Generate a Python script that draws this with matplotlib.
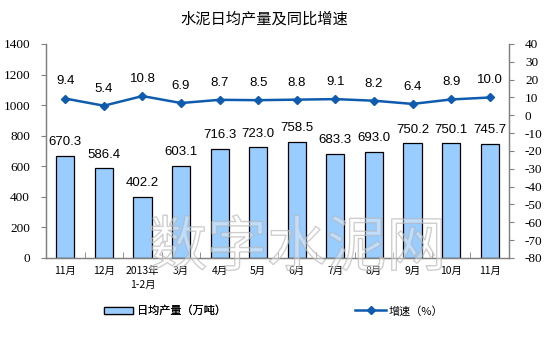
import matplotlib
matplotlib.use("Agg")
import matplotlib.pyplot as plt
import matplotlib.patheffects as pe
import numpy as np
from matplotlib.patches import Patch
from matplotlib.lines import Line2D

plt.rcParams["axes.unicode_minus"] = False

# Data
categories = ["11月", "12月", "2013年\n1-2月", "3月", "4月", "5月", "6月",
              "7月", "8月", "9月", "10月", "11月"]
daily_output = [670.3, 586.4, 402.2, 603.1, 716.3, 723.0, 758.5,
                683.3, 693.0, 750.2, 750.1, 745.7]
growth_rate = [9.4, 5.4, 10.8, 6.9, 8.7, 8.5, 8.8, 9.1, 8.2, 6.4, 8.9, 10.0]
left_ticks = [0, 200, 400, 600, 800, 1000, 1200, 1400]
right_ticks = [-80, -70, -60, -50, -40, -30, -20, -10, 0, 10, 20, 30, 40]

CJK = ["Noto Sans CJK SC", "DejaVu Sans"]
SERIF = "Liberation Serif"
SANS = ["Liberation Sans", "DejaVu Sans"]

BAR_FACE = "#99CCFF"
LINE_COLOR = "#0F5BAE"
AXIS_COLOR = "#808080"

fig = plt.figure(figsize=(5.49, 3.40), dpi=100)
ax = fig.add_axes([46 / 549, 1 - 258 / 340, (509 - 46) / 549, (258 - 44) / 340])
ax2 = ax.twinx()

x = np.arange(len(categories))

# Bars: daily output
ax.bar(x, daily_output, width=0.47, color=BAR_FACE, edgecolor="black",
       linewidth=0.9, zorder=2)
for xi, v in zip(x, daily_output):
    ax.annotate(f"{v:.1f}", (xi, v), xytext=(0, 5.5), textcoords="offset points",
                ha="center", va="bottom", fontsize=9.5, family=SANS, color="black")

ax.set_xlim(-0.5, len(categories) - 0.5)
ax.set_ylim(0, 1400)
ax.set_yticks(left_ticks)
ax.set_yticklabels([str(t) for t in left_ticks], fontfamily=SERIF, fontsize=9.5)
ax.set_xticks(x)
ax.set_xticklabels(categories, family=CJK, fontsize=7.5, linespacing=1.5)
ax.set_xticks(np.arange(-0.5, len(categories), 1.0), minor=True)
ax.tick_params(axis="x", which="major", length=0, pad=6)
ax.tick_params(axis="x", which="minor", length=4, direction="in", color=AXIS_COLOR)
ax.tick_params(axis="y", length=3.5, direction="out", color=AXIS_COLOR, pad=8)

# Line: year-on-year growth
ax2.plot(x, growth_rate, color=LINE_COLOR, linewidth=1.8, marker="D",
         markersize=4.5, zorder=3)
for xi, v in zip(x, growth_rate):
    ax2.annotate(f"{v:.1f}", (xi, v), xytext=(0, 8), textcoords="offset points",
                 ha="center", va="bottom", fontsize=9.5, family=SANS, color="black")
ax2.set_ylim(-80, 40)
ax2.set_yticks(right_ticks)
ax2.set_yticklabels([str(t) for t in right_ticks], fontfamily=SERIF, fontsize=9.5)
ax2.tick_params(axis="y", length=3.5, direction="out", color=AXIS_COLOR, pad=8)

for a in (ax, ax2):
    a.spines["top"].set_visible(False)
    for s in ("left", "right", "bottom"):
        a.spines[s].set_color(AXIS_COLOR)
        a.spines[s].set_linewidth(0.9)

# Title
fig.text(264 / 549, 1 - 19 / 340, "水泥日均产量及同比增速",
         ha="center", va="center", fontsize=11, family=CJK)

# Watermark
fig.text(297 / 549, 1 - 249 / 340, "数字水泥网", ha="center", va="center",
         fontsize=43, family=CJK, fontweight="light", color=(1, 1, 1, 0.2),
         path_effects=[pe.withStroke(linewidth=1.0, foreground=(0.7, 0.7, 0.7, 0.7))],
         zorder=10)

# Legends
bar_handle = Patch(facecolor=BAR_FACE, edgecolor="black", linewidth=0.9)
line_handle = Line2D([], [], color=LINE_COLOR, linewidth=1.8, marker="D", markersize=4.5)
leg1 = fig.legend([bar_handle], ["日均产量（万吨）"], loc="center left",
                  bbox_to_anchor=(104 / 549, 1 - 311 / 340), frameon=False,
                  prop={"family": CJK, "size": 8}, handlelength=2.6,
                  handleheight=0.65, handletextpad=0.4, borderpad=0, borderaxespad=0)
leg2 = fig.legend([line_handle], ["增速（%）"], loc="center left",
                  bbox_to_anchor=(355 / 549, 1 - 311 / 340), frameon=False,
                  prop={"family": CJK, "size": 8}, handlelength=2.8,
                  handletextpad=0.2, borderpad=0, borderaxespad=0)
fig.add_artist(leg1)

fig.savefig("out.png", dpi=100)
